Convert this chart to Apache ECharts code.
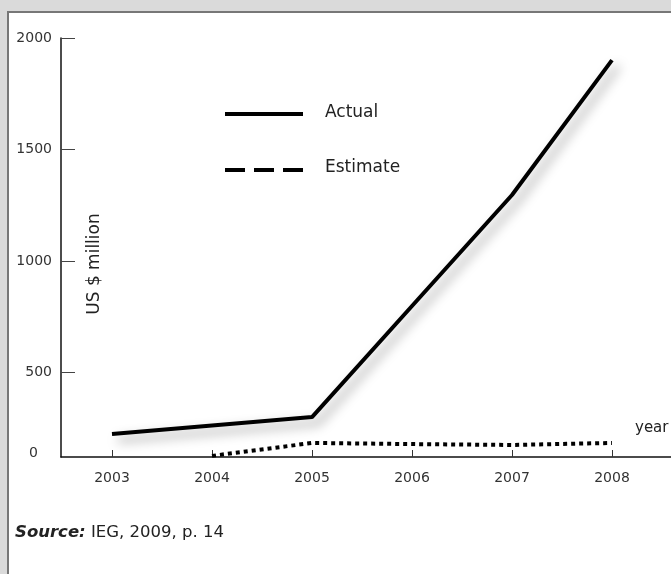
<!DOCTYPE html>
<html>
<head>
<meta charset="utf-8">
<script src="https://cdn.jsdelivr.net/npm/echarts@6/dist/echarts.min.js"></script>
<style>
html,body{margin:0;padding:0;background:#dadada;}
#c{width:671px;height:574px;}
</style>
</head>
<body>
<div id="c"></div>
<script>
// Data (values on the chart's linear tick scale)
var years = [2003, 2004, 2005, 2006, 2007, 2008];
var actual = [224, 262, 300, 798, 1296, 1901];
var estimate = [null, 126, 184, 179, 175, 184];
var yTicks = [500, 1000, 1500, 2000];
var yAxisBase = 121; // where the x axis crosses; labelled "0"

var FONT = 'DejaVu Sans';
var chart = echarts.init(document.getElementById('c'));

function pairs(vals) {
  var out = [];
  for (var i = 0; i < years.length; i++) {
    if (vals[i] !== null) out.push([years[i], vals[i]]);
  }
  return out;
}

var option = {
  backgroundColor: '#dadada',
  animation: false,
  grid: { left: 61, top: 38, right: 0, bottom: 117 },
  xAxis: {
    type: 'value',
    min: 2002.49,
    max: 2008.59,
    axisLine: { show: true, lineStyle: { color: '#111', width: 1.5 } },
    axisTick: { show: true, inside: true, length: 7, customValues: years, lineStyle: { color: '#333', width: 1 } },
    axisLabel: { customValues: years, margin: 14, fontSize: 14, fontFamily: FONT, color: '#333', formatter: function (v) { return String(v); } },
    splitLine: { show: false }
  },
  yAxis: {
    type: 'value',
    min: yAxisBase,
    max: 2000,
    axisLine: { show: true, lineStyle: { color: '#111', width: 1.5 } },
    axisTick: { show: true, inside: true, length: 14, customValues: yTicks, lineStyle: { color: '#444', width: 1 } },
    axisLabel: {
      customValues: [yAxisBase].concat(yTicks),
      margin: 9,
      fontSize: 14,
      fontFamily: FONT,
      color: '#333',
      formatter: function (v) { return v === yAxisBase ? '{z|0}' : String(v); },
      rich: { z: { fontSize: 14, fontFamily: FONT, color: '#333', padding: [0, 14, 8, 0] } }
    },
    splitLine: { show: false }
  },
  series: [
    {
      name: 'Actual',
      type: 'line',
      data: pairs(actual),
      showSymbol: false,
      lineStyle: { color: '#000', width: 4, shadowColor: 'rgba(0,0,0,0.4)', shadowBlur: 12, shadowOffsetX: 6, shadowOffsetY: 6 },
      z: 3
    },
    {
      name: 'Estimate',
      type: 'line',
      data: pairs(estimate),
      showSymbol: false,
      lineStyle: { color: '#000', width: 4, type: [4, 4], cap: 'butt' },
      z: 3
    }
  ],
  graphic: [
    { type: 'rect', z: -10, shape: { x: 8, y: 12, width: 720, height: 620 }, style: { fill: '#fff', stroke: '#777', lineWidth: 2 } },
    { type: 'line', shape: { x1: 225, y1: 114, x2: 303, y2: 114 }, style: { stroke: '#000', lineWidth: 4 } },
    { type: 'line', shape: { x1: 225, y1: 170, x2: 303, y2: 170 }, style: { stroke: '#000', lineWidth: 4, lineDash: [20, 9] } },
    { type: 'text', x: 325, y: 113, style: { text: 'Actual', font: '17px "' + FONT + '"', fill: '#222', verticalAlign: 'middle' } },
    { type: 'text', x: 325, y: 168, style: { text: 'Estimate', font: '17px "' + FONT + '"', fill: '#222', verticalAlign: 'middle' } },
    { type: 'text', x: 95, y: 264, rotation: Math.PI / 2, style: { text: 'US $ million', font: '17px "' + FONT + '"', fill: '#222', align: 'center', verticalAlign: 'middle' } },
    { type: 'text', x: 635, y: 428, style: { text: 'year', font: '15px "' + FONT + '"', fill: '#222', verticalAlign: 'middle' } },
    { type: 'text', x: 15, y: 533, style: {
        text: '{b|Source:} IEG, 2009, p. 14',
        font: '16.5px "' + FONT + '"', fill: '#222', verticalAlign: 'middle',
        rich: { b: { fontWeight: 'bold', fontStyle: 'italic', fontSize: 16.5, fontFamily: FONT, fill: '#222' } }
      } }
  ]
};
chart.setOption(option);
</script>
</body>
</html>
